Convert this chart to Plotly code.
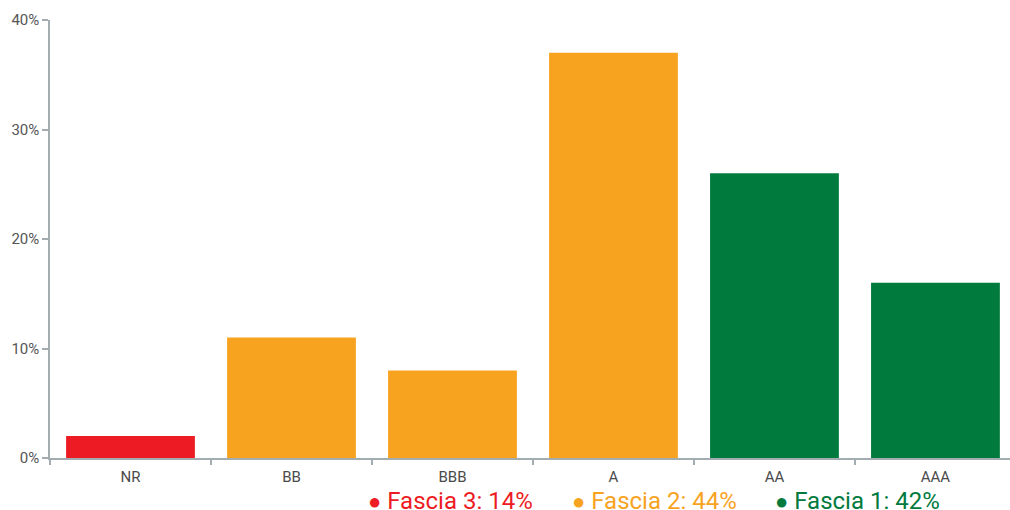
import plotly.graph_objects as go

# Rating categories and their share of the portfolio (%)
ratings = ["NR", "BB", "BBB", "A", "AA", "AAA"]
shares = [2, 11, 8, 37, 26, 16]
bar_colors = ["#ED1C24", "#F7A31F", "#F7A31F", "#F7A31F", "#017A3E", "#017A3E"]

# Band summary shown under the chart
band_labels = ["Fascia 3: 14%", "Fascia 2: 44%", "Fascia 1: 42%"]
band_colors = ["#ED1C24", "#F7A31F", "#017A3E"]

y_ticks = [0, 10, 20, 30, 40]
y_tick_text = ["0%", "10%", "20%", "30%", "40%"]

fig = go.Figure(
    go.Bar(
        x=ratings,
        y=shares,
        marker=dict(color=bar_colors, line=dict(width=0)),
        hoverinfo="x+y",
    )
)

axis_color = "#A3ACB1"
fig.update_layout(
    width=1010,
    height=510,
    margin=dict(l=50, r=0, t=20, b=52),
    paper_bgcolor="white",
    plot_bgcolor="white",
    bargap=0.2,
    showlegend=False,
    font=dict(family="Roboto", color="#4A4A4A"),
)

fig.update_xaxes(
    type="category",
    range=[-0.5, 5.463],
    showline=True,
    linecolor=axis_color,
    linewidth=1.5,
    ticks="outside",
    tickson="boundaries",
    ticklen=5,
    tickcolor=axis_color,
    tickwidth=1.5,
    ticklabelstandoff=4,
    tickfont=dict(size=15, color="#4A4A4A"),
    showgrid=False,
    zeroline=False,
)
fig.update_yaxes(
    range=[0, 40],
    tickvals=y_ticks,
    ticktext=y_tick_text,
    showline=True,
    linecolor=axis_color,
    linewidth=1.5,
    ticks="outside",
    ticklen=6,
    tickcolor=axis_color,
    tickwidth=1.5,
    tickfont=dict(size=15, color="#555"),
    showgrid=False,
    zeroline=False,
)

# Colored band legend below the axis (pixel centres converted to paper coords)
band_x = [450, 654, 857]
for label, color, xc in zip(band_labels, band_colors, band_x):
    fig.add_annotation(
        x=(xc - 50) / 960,
        y=(458 - 501) / 438,
        xref="paper",
        yref="paper",
        text=f"<span style='font-size:22px'>●</span> {label}",
        showarrow=False,
        font=dict(size=24, color=color, family="Roboto"),
        xanchor="center",
        yanchor="middle",
    )

fig.write_html("out.html")
